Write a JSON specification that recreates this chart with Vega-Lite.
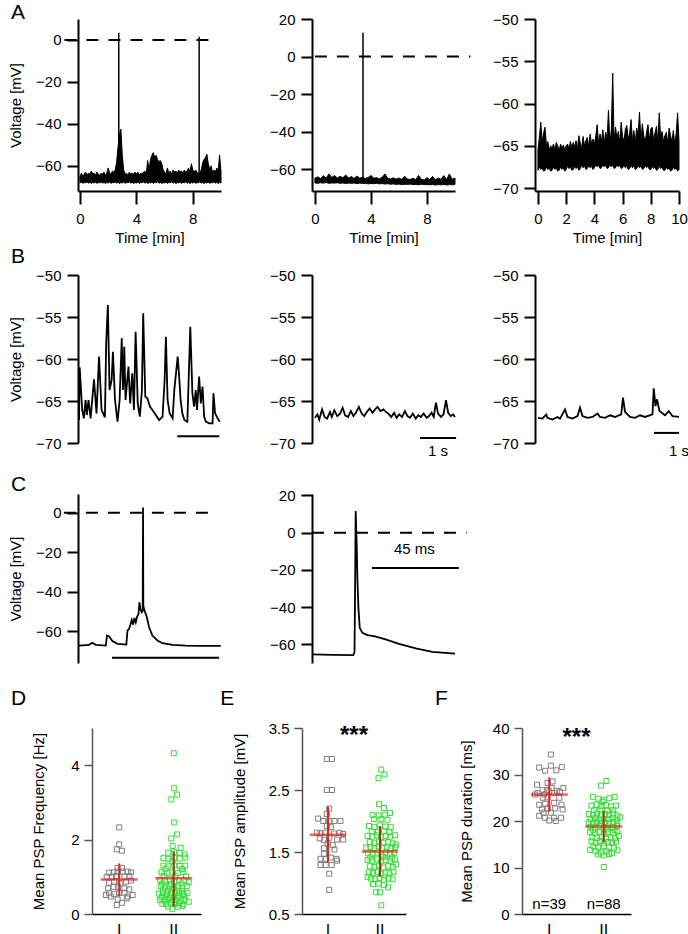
{
"$schema":"https://vega.github.io/schema/vega-lite/v6.json",
"background":"white",
"padding":{"left":8,"top":2,"right":0,"bottom":0},
"config":{
 "font":"Liberation Sans",
 "view":{"stroke":null},
 "axis":{"domainColor":"black","domainWidth":2,"tickColor":"black","tickWidth":2,"tickSize":11,"labelPadding":6,"labelFont":"Liberation Sans","labelFontSize":15,"labelColor":"black","titleFont":"Liberation Sans","titleFontSize":15,"titleFontWeight":"normal","titleColor":"black","grid":false,"labelFlush":false,"labelOverlap":false}
},
"datasets":{
 "a1":[
{"t":0.0,"hi":-65,"lo":-68.2},{"t":0.1,"hi":-63.5,"lo":-67.7},{"t":0.2,"hi":-65,"lo":-68.4},{"t":0.3,"hi":-64,"lo":-67.9},{"t":0.4,"hi":-63,"lo":-68.1},{"t":0.5,"hi":-64.5,"lo":-67.6},{"t":0.6,"hi":-63.5,"lo":-68.3},{"t":0.7,"hi":-64,"lo":-67.8},{"t":0.8,"hi":-62.5,"lo":-68.5},{"t":0.9,"hi":-64,"lo":-67.9},
{"t":1.0,"hi":-63.5,"lo":-68.2},{"t":1.1,"hi":-64.5,"lo":-67.7},{"t":1.2,"hi":-63,"lo":-68.4},{"t":1.3,"hi":-64,"lo":-67.9},{"t":1.4,"hi":-64.5,"lo":-68.1},{"t":1.5,"hi":-63.5,"lo":-67.6},{"t":1.6,"hi":-64,"lo":-68.3},{"t":1.7,"hi":-63,"lo":-67.8},{"t":1.8,"hi":-64.5,"lo":-68.5},{"t":1.9,"hi":-63.5,"lo":-67.9},
{"t":2.0,"hi":-61,"lo":-68.2},{"t":2.1,"hi":-63.5,"lo":-67.7},{"t":2.2,"hi":-64,"lo":-68.4},{"t":2.3,"hi":-62.5,"lo":-67.9},{"t":2.4,"hi":-63,"lo":-68.1},{"t":2.5,"hi":-62,"lo":-67.6},{"t":2.6,"hi":-58,"lo":-68.3},{"t":2.7,"hi":-51,"lo":-67.8},{"t":2.8,"hi":-45,"lo":-68.5},{"t":2.9,"hi":-42.5,"lo":-67.9},
{"t":3.0,"hi":-55,"lo":-68.2},{"t":3.1,"hi":-62,"lo":-67.7},{"t":3.2,"hi":-64,"lo":-68.4},{"t":3.3,"hi":-63.5,"lo":-67.9},{"t":3.4,"hi":-64.5,"lo":-68.1},{"t":3.5,"hi":-63,"lo":-67.6},{"t":3.6,"hi":-64,"lo":-68.3},{"t":3.7,"hi":-63.5,"lo":-67.8},{"t":3.8,"hi":-64,"lo":-68.5},{"t":3.9,"hi":-63,"lo":-67.9},
{"t":4.0,"hi":-64,"lo":-68.2},{"t":4.1,"hi":-63,"lo":-67.7},{"t":4.2,"hi":-64.5,"lo":-68.4},{"t":4.3,"hi":-63.5,"lo":-67.9},{"t":4.4,"hi":-64,"lo":-68.1},{"t":4.5,"hi":-63,"lo":-67.6},{"t":4.6,"hi":-62.5,"lo":-68.3},{"t":4.7,"hi":-64,"lo":-67.8},{"t":4.8,"hi":-57.5,"lo":-68.5},{"t":4.9,"hi":-62,"lo":-67.9},
{"t":5.0,"hi":-57,"lo":-68.2},{"t":5.1,"hi":-55,"lo":-67.7},{"t":5.2,"hi":-53.7,"lo":-68.4},{"t":5.3,"hi":-56,"lo":-67.9},{"t":5.4,"hi":-55,"lo":-68.1},{"t":5.5,"hi":-57,"lo":-67.6},{"t":5.6,"hi":-58,"lo":-68.3},{"t":5.7,"hi":-57.5,"lo":-67.8},{"t":5.8,"hi":-59,"lo":-68.5},{"t":5.9,"hi":-62,"lo":-67.9},
{"t":6.0,"hi":-63,"lo":-68.2},{"t":6.1,"hi":-64,"lo":-67.7},{"t":6.2,"hi":-61,"lo":-68.4},{"t":6.3,"hi":-63.5,"lo":-67.9},{"t":6.4,"hi":-62.5,"lo":-68.1},{"t":6.5,"hi":-64,"lo":-67.6},{"t":6.6,"hi":-62,"lo":-68.3},{"t":6.7,"hi":-63,"lo":-67.8},{"t":6.8,"hi":-62.5,"lo":-68.5},{"t":6.9,"hi":-63.5,"lo":-67.9},
{"t":7.0,"hi":-62,"lo":-68.2},{"t":7.1,"hi":-63,"lo":-67.7},{"t":7.2,"hi":-62.5,"lo":-68.4},{"t":7.3,"hi":-63.5,"lo":-67.9},{"t":7.4,"hi":-62,"lo":-68.1},{"t":7.5,"hi":-63,"lo":-67.6},{"t":7.6,"hi":-62.5,"lo":-68.3},{"t":7.7,"hi":-61,"lo":-67.8},{"t":7.8,"hi":-63,"lo":-68.5},{"t":7.9,"hi":-59,"lo":-67.9},
{"t":8.0,"hi":-62,"lo":-68.2},{"t":8.1,"hi":-63,"lo":-67.7},{"t":8.2,"hi":-62,"lo":-68.4},{"t":8.3,"hi":-63,"lo":-67.9},{"t":8.4,"hi":-64,"lo":-68.1},{"t":8.5,"hi":-63,"lo":-67.6},{"t":8.6,"hi":-62,"lo":-68.3},{"t":8.7,"hi":-58.5,"lo":-67.8},{"t":8.8,"hi":-57,"lo":-68.5},{"t":8.9,"hi":-56,"lo":-67.9},
{"t":9.0,"hi":-54.5,"lo":-68.2},{"t":9.1,"hi":-59,"lo":-67.7},{"t":9.2,"hi":-62,"lo":-68.4},{"t":9.3,"hi":-60,"lo":-67.9},{"t":9.4,"hi":-63,"lo":-68.1},{"t":9.5,"hi":-62,"lo":-67.6},{"t":9.6,"hi":-63,"lo":-68.3},{"t":9.7,"hi":-61,"lo":-67.8},{"t":9.8,"hi":-62.5,"lo":-68.5},{"t":9.9,"hi":-54.8,"lo":-67.9},{"t":10.0,"hi":-63,"lo":-68.2}
 ],
 "a2":[
{"t":0,"hi":-64.8,"lo":-67.4},{"t":0.2,"hi":-64.2,"lo":-67.6},{"t":0.4,"hi":-65.0,"lo":-67.3},{"t":0.6,"hi":-63.6,"lo":-67.5},{"t":0.8,"hi":-64.9,"lo":-67.2},{"t":1.0,"hi":-62.6,"lo":-67.6},{"t":1.2,"hi":-64.5,"lo":-67.4},{"t":1.4,"hi":-63.5,"lo":-67.5},{"t":1.6,"hi":-64.8,"lo":-67.3},{"t":1.8,"hi":-63.9,"lo":-67.6},
{"t":2.0,"hi":-64.6,"lo":-67.4},{"t":2.2,"hi":-63.2,"lo":-67.7},{"t":2.4,"hi":-64.8,"lo":-67.5},{"t":2.6,"hi":-64.0,"lo":-67.6},{"t":2.8,"hi":-65.0,"lo":-67.4},{"t":3.0,"hi":-63.7,"lo":-67.8},{"t":3.2,"hi":-64.9,"lo":-67.5},{"t":3.4,"hi":-64.3,"lo":-67.7},{"t":3.6,"hi":-65.1,"lo":-67.6},{"t":3.8,"hi":-64.5,"lo":-67.9},
{"t":4.0,"hi":-63.4,"lo":-67.7},{"t":4.2,"hi":-64.9,"lo":-67.8},{"t":4.4,"hi":-64.6,"lo":-67.6},{"t":4.6,"hi":-65.2,"lo":-67.9},{"t":4.8,"hi":-64.4,"lo":-67.7},{"t":5.0,"hi":-62.6,"lo":-68.0},{"t":5.2,"hi":-64.9,"lo":-67.8},{"t":5.4,"hi":-65.3,"lo":-68.1},{"t":5.6,"hi":-64.7,"lo":-67.9},{"t":5.8,"hi":-65.4,"lo":-68.2},
{"t":6.0,"hi":-64.8,"lo":-68.0},{"t":6.2,"hi":-65.5,"lo":-68.3},{"t":6.4,"hi":-63.8,"lo":-68.1},{"t":6.6,"hi":-65.3,"lo":-68.2},{"t":6.8,"hi":-65.6,"lo":-68.0},{"t":7.0,"hi":-64.9,"lo":-68.3},{"t":7.2,"hi":-65.7,"lo":-68.2},{"t":7.4,"hi":-63.4,"lo":-68.4},{"t":7.6,"hi":-65.5,"lo":-68.1},{"t":7.8,"hi":-65.8,"lo":-68.3},
{"t":8.0,"hi":-64.6,"lo":-68.2},{"t":8.2,"hi":-65.6,"lo":-68.4},{"t":8.4,"hi":-63.9,"lo":-68.2},{"t":8.6,"hi":-65.7,"lo":-68.5},{"t":8.8,"hi":-64.8,"lo":-68.3},{"t":9.0,"hi":-65.5,"lo":-68.4},{"t":9.2,"hi":-63.5,"lo":-68.2},{"t":9.4,"hi":-65.6,"lo":-68.5},{"t":9.6,"hi":-62.6,"lo":-68.3},{"t":9.8,"hi":-65.5,"lo":-68.4},{"t":10.0,"hi":-64.8,"lo":-68.2}
 ],
 "a3":[
{"t":0.0,"hi":-65.5,"lo":-67.9},{"t":0.1,"hi":-64,"lo":-67.5},{"t":0.2,"hi":-62.2,"lo":-67.8},{"t":0.3,"hi":-64.5,"lo":-67.6},{"t":0.4,"hi":-63.5,"lo":-68.0},{"t":0.5,"hi":-62.8,"lo":-67.9},{"t":0.6,"hi":-65,"lo":-67.5},{"t":0.7,"hi":-64.5,"lo":-67.8},{"t":0.8,"hi":-65.5,"lo":-67.6},{"t":0.9,"hi":-65,"lo":-68.0},
{"t":1.0,"hi":-65.3,"lo":-67.9},{"t":1.1,"hi":-64.8,"lo":-67.5},{"t":1.2,"hi":-65.5,"lo":-67.8},{"t":1.3,"hi":-64.6,"lo":-67.6},{"t":1.4,"hi":-65,"lo":-68.0},{"t":1.5,"hi":-65.6,"lo":-67.9},{"t":1.6,"hi":-64.8,"lo":-67.5},{"t":1.7,"hi":-65.3,"lo":-67.8},{"t":1.8,"hi":-64.9,"lo":-67.6},{"t":1.9,"hi":-65.5,"lo":-68.0},
{"t":2.0,"hi":-65,"lo":-67.8},{"t":2.1,"hi":-64.8,"lo":-67.4},{"t":2.2,"hi":-65.4,"lo":-67.7},{"t":2.3,"hi":-64.5,"lo":-67.5},{"t":2.4,"hi":-65.2,"lo":-67.9},{"t":2.5,"hi":-64.6,"lo":-67.8},{"t":2.6,"hi":-65.1,"lo":-67.4},{"t":2.7,"hi":-64.4,"lo":-67.7},{"t":2.8,"hi":-65.3,"lo":-67.5},{"t":2.9,"hi":-63.8,"lo":-67.9},
{"t":3.0,"hi":-64.7,"lo":-67.7},{"t":3.1,"hi":-65.2,"lo":-67.3},{"t":3.2,"hi":-63.9,"lo":-67.6},{"t":3.3,"hi":-65,"lo":-67.4},{"t":3.4,"hi":-64.4,"lo":-67.8},{"t":3.5,"hi":-64,"lo":-67.7},{"t":3.6,"hi":-65.1,"lo":-67.3},{"t":3.7,"hi":-63.6,"lo":-67.6},{"t":3.8,"hi":-64.8,"lo":-67.4},{"t":3.9,"hi":-64.2,"lo":-67.8},
{"t":4.0,"hi":-64.8,"lo":-67.6},{"t":4.1,"hi":-63.8,"lo":-67.2},{"t":4.2,"hi":-62.5,"lo":-67.5},{"t":4.3,"hi":-64.9,"lo":-67.3},{"t":4.4,"hi":-63.6,"lo":-67.7},{"t":4.5,"hi":-64.5,"lo":-67.6},{"t":4.6,"hi":-63.1,"lo":-67.2},{"t":4.7,"hi":-64.7,"lo":-67.5},{"t":4.8,"hi":-63.4,"lo":-67.3},{"t":4.9,"hi":-64.2,"lo":-67.7},
{"t":5.0,"hi":-60.8,"lo":-67.6},{"t":5.1,"hi":-64.6,"lo":-67.2},{"t":5.2,"hi":-63.2,"lo":-67.5},{"t":5.3,"hi":-56.4,"lo":-67.3},{"t":5.4,"hi":-64.5,"lo":-67.7},{"t":5.5,"hi":-62.8,"lo":-67.6},{"t":5.6,"hi":-64.1,"lo":-67.2},{"t":5.7,"hi":-63.3,"lo":-67.5},{"t":5.8,"hi":-64.6,"lo":-67.3},{"t":5.9,"hi":-62.2,"lo":-67.7},
{"t":6.0,"hi":-63.9,"lo":-67.6},{"t":6.1,"hi":-64.5,"lo":-67.3},{"t":6.2,"hi":-63,"lo":-67.6},{"t":6.3,"hi":-62.6,"lo":-67.4},{"t":6.4,"hi":-64.3,"lo":-67.8},{"t":6.5,"hi":-63.5,"lo":-67.7},{"t":6.6,"hi":-61.9,"lo":-67.3},{"t":6.7,"hi":-64.4,"lo":-67.6},{"t":6.8,"hi":-63.2,"lo":-67.4},{"t":6.9,"hi":-64.6,"lo":-67.8},
{"t":7.0,"hi":-62.9,"lo":-67.7},{"t":7.1,"hi":-63.7,"lo":-67.3},{"t":7.2,"hi":-61,"lo":-67.6},{"t":7.3,"hi":-64.5,"lo":-67.4},{"t":7.4,"hi":-62.4,"lo":-67.8},{"t":7.5,"hi":-63.8,"lo":-67.7},{"t":7.6,"hi":-64.6,"lo":-67.3},{"t":7.7,"hi":-63.4,"lo":-67.6},{"t":7.8,"hi":-62.5,"lo":-67.4},{"t":7.9,"hi":-64.3,"lo":-67.8},
{"t":8.0,"hi":-63,"lo":-67.8},{"t":8.1,"hi":-62.8,"lo":-67.4},{"t":8.2,"hi":-64.4,"lo":-67.7},{"t":8.3,"hi":-63.5,"lo":-67.5},{"t":8.4,"hi":-62.7,"lo":-67.9},{"t":8.5,"hi":-64.6,"lo":-67.8},{"t":8.6,"hi":-61.1,"lo":-67.4},{"t":8.7,"hi":-64.2,"lo":-67.7},{"t":8.8,"hi":-63.3,"lo":-67.5},{"t":8.9,"hi":-64.5,"lo":-67.9},
{"t":9.0,"hi":-63.8,"lo":-67.9},{"t":9.1,"hi":-63.4,"lo":-67.5},{"t":9.2,"hi":-64.7,"lo":-67.8},{"t":9.3,"hi":-62.9,"lo":-67.6},{"t":9.4,"hi":-63.8,"lo":-68.0},{"t":9.5,"hi":-64.5,"lo":-67.9},{"t":9.6,"hi":-63.2,"lo":-67.5},{"t":9.7,"hi":-64.8,"lo":-67.8},{"t":9.8,"hi":-63.6,"lo":-67.6},{"t":9.9,"hi":-61.1,"lo":-68.0},{"t":10.0,"hi":-64.5,"lo":-67.8}
 ],
 "b1":[
{"t":0.024,"v":-67.26},{"t":0.04,"v":-60.99},{"t":0.10,"v":-66.07},{"t":0.14,"v":-67.06},{"t":0.18,"v":-64.88},{"t":0.21,"v":-66.67},{"t":0.25,"v":-64.88},{"t":0.30,"v":-67.06},{"t":0.38,"v":-62.42},{"t":0.44,"v":-66.47},{"t":0.50,"v":-59.72},{"t":0.56,"v":-66.07},{"t":0.64,"v":-66.94},{"t":0.67,"v":-58.13},{"t":0.71,"v":-53.57},{"t":0.75,"v":-63.69},{"t":0.80,"v":-62.50},{"t":0.83,"v":-59.13},{"t":0.88,"v":-64.88},{"t":0.94,"v":-67.46},{"t":0.99,"v":-64.88},{"t":1.04,"v":-57.54},{"t":1.07,"v":-63.69},{"t":1.10,"v":-58.53},{"t":1.13,"v":-64.88},{"t":1.20,"v":-60.91},{"t":1.24,"v":-65.28},{"t":1.29,"v":-61.71},{"t":1.33,"v":-66.07},{"t":1.37,"v":-56.75},{"t":1.42,"v":-65.28},{"t":1.47,"v":-66.87},{"t":1.52,"v":-63.69},{"t":1.55,"v":-54.56},{"t":1.60,"v":-64.48},{"t":1.65,"v":-64.68},{"t":1.71,"v":-65.67},{"t":1.77,"v":-66.07},{"t":1.85,"v":-66.67},{"t":1.93,"v":-67.26},{"t":2.01,"v":-66.87},{"t":2.06,"v":-62.50},{"t":2.09,"v":-57.34},{"t":2.13,"v":-64.88},{"t":2.18,"v":-66.47},{"t":2.25,"v":-67.06},{"t":2.29,"v":-63.69},{"t":2.37,"v":-59.72},{"t":2.40,"v":-61.71},{"t":2.44,"v":-64.88},{"t":2.48,"v":-66.47},{"t":2.53,"v":-67.26},{"t":2.60,"v":-67.46},{"t":2.67,"v":-56.15},{"t":2.72,"v":-64.09},{"t":2.76,"v":-65.67},{"t":2.80,"v":-63.69},{"t":2.83,"v":-66.07},{"t":2.88,"v":-62.10},{"t":2.92,"v":-65.28},{"t":2.96,"v":-63.29},{"t":3.00,"v":-66.87},{"t":3.04,"v":-67.46},{"t":3.12,"v":-67.66},{"t":3.20,"v":-67.66},{"t":3.22,"v":-64.09},{"t":3.26,"v":-66.47},{"t":3.32,"v":-67.06},{"t":3.37,"v":-67.46}
 ],
 "b2":[
{"t":0.08,"v":-67.0},{"t":0.15,"v":-66.6},{"t":0.2,"v":-67.2},{"t":0.28,"v":-66.0},{"t":0.35,"v":-66.9},{"t":0.42,"v":-67.1},{"t":0.5,"v":-66.3},{"t":0.55,"v":-66.9},{"t":0.62,"v":-66.1},{"t":0.7,"v":-66.8},{"t":0.78,"v":-66.5},{"t":0.85,"v":-65.8},{"t":0.92,"v":-66.7},{"t":1.0,"v":-66.9},{"t":1.08,"v":-66.2},{"t":1.15,"v":-66.8},{"t":1.22,"v":-66.4},{"t":1.3,"v":-65.7},{"t":1.38,"v":-66.5},{"t":1.45,"v":-66.8},{"t":1.52,"v":-66.3},{"t":1.6,"v":-65.9},{"t":1.68,"v":-66.4},{"t":1.75,"v":-66.0},{"t":1.82,"v":-65.7},{"t":1.9,"v":-66.2},{"t":1.98,"v":-66.0},{"t":2.05,"v":-66.3},{"t":2.12,"v":-66.5},{"t":2.2,"v":-66.9},{"t":2.28,"v":-66.4},{"t":2.35,"v":-67.0},{"t":2.42,"v":-66.6},{"t":2.5,"v":-66.9},{"t":2.58,"v":-66.2},{"t":2.65,"v":-66.8},{"t":2.72,"v":-67.0},{"t":2.8,"v":-66.5},{"t":2.88,"v":-67.1},{"t":2.95,"v":-66.7},{"t":3.02,"v":-66.9},{"t":3.1,"v":-66.5},{"t":3.18,"v":-67.0},{"t":3.25,"v":-66.8},{"t":3.32,"v":-66.4},{"t":3.38,"v":-66.9},{"t":3.44,"v":-65.2},{"t":3.5,"v":-66.5},{"t":3.58,"v":-66.9},{"t":3.65,"v":-66.6},{"t":3.72,"v":-64.9},{"t":3.78,"v":-66.4},{"t":3.85,"v":-66.8},{"t":3.92,"v":-66.6},{"t":3.97,"v":-66.9}
 ],
 "b3":[
{"t":0.12,"v":-67.0},{"t":0.3,"v":-67.1},{"t":0.45,"v":-66.6},{"t":0.5,"v":-67.0},{"t":0.7,"v":-67.2},{"t":0.9,"v":-66.9},{"t":1.0,"v":-67.1},{"t":1.2,"v":-66.0},{"t":1.3,"v":-66.9},{"t":1.5,"v":-67.1},{"t":1.7,"v":-66.8},{"t":1.8,"v":-65.8},{"t":1.9,"v":-66.8},{"t":2.1,"v":-67.0},{"t":2.3,"v":-66.9},{"t":2.5,"v":-66.5},{"t":2.6,"v":-66.9},{"t":2.8,"v":-67.0},{"t":3.0,"v":-66.7},{"t":3.2,"v":-66.9},{"t":3.45,"v":-66.6},{"t":3.52,"v":-64.6},{"t":3.6,"v":-66.3},{"t":3.8,"v":-66.9},{"t":4.0,"v":-67.0},{"t":4.2,"v":-66.7},{"t":4.4,"v":-66.9},{"t":4.7,"v":-66.6},{"t":4.75,"v":-63.5},{"t":4.82,"v":-65.6},{"t":4.88,"v":-64.8},{"t":4.98,"v":-66.2},{"t":5.2,"v":-66.7},{"t":5.35,"v":-66.2},{"t":5.5,"v":-66.8},{"t":5.76,"v":-66.9}
 ],
 "c1":[
{"t":0.5,"v":-67.2},{"t":5.7,"v":-66.8},{"t":7.4,"v":-65.8},{"t":9.2,"v":-66.8},{"t":14.4,"v":-67.2},{"t":15.0,"v":-62.1},{"t":16.1,"v":-62.6},{"t":17.8,"v":-64.9},{"t":20.4,"v":-66.3},{"t":25.0,"v":-66.7},{"t":25.6,"v":-59.6},{"t":26.4,"v":-58.8},{"t":27.1,"v":-56.6},{"t":27.8,"v":-54.2},{"t":28.5,"v":-56.6},{"t":29.2,"v":-53.2},{"t":29.9,"v":-55.4},{"t":30.6,"v":-52.5},{"t":31.3,"v":-51.2},{"t":31.8,"v":-45.3},{"t":32.3,"v":-48.7},{"t":33.0,"v":-50.3},{"t":33.5,"v":-49.5},{"t":33.65,"v":2.7},{"t":33.8,"v":-47},{"t":34.4,"v":-49.5},{"t":35.4,"v":-52.0},{"t":36.8,"v":-57.9},{"t":38.5,"v":-62.1},{"t":41.1,"v":-64.6},{"t":43.7,"v":-66.0},{"t":48.9,"v":-66.8},{"t":55.8,"v":-67.2},{"t":62.7,"v":-67.3},{"t":73.9,"v":-67.3}
 ],
 "c2":[
{"t":0.2,"v":-65.4},{"t":10.5,"v":-65.6},{"t":21.4,"v":-65.8},{"t":22.0,"v":-64},{"t":22.3,"v":-30},{"t":22.6,"v":11.7},{"t":23.1,"v":-5},{"t":23.5,"v":-25},{"t":24.0,"v":-40},{"t":24.7,"v":-51.1},{"t":26.1,"v":-53.8},{"t":28.6,"v":-55.0},{"t":32.1,"v":-55.5},{"t":38.1,"v":-57.3},{"t":45.0,"v":-59.7},{"t":53.7,"v":-62.2},{"t":62.3,"v":-64.0},{"t":74.0,"v":-65.0}
 ],
 "d":[
{"g":"I","j":0,"v":2.33},{"g":"I","j":0,"v":1.87},{"g":"I","j":-0.09,"v":1.74},{"g":"I","j":0.1,"v":1.7},{"g":"I","j":-0.06,"v":1.24},{"g":"I","j":0.1,"v":1.24},{"g":"I","j":-0.37,"v":1.11},{"g":"I","j":-0.21,"v":1.12},{"g":"I","j":-0.06,"v":1.14},{"g":"I","j":0.12,"v":1.14},{"g":"I","j":0.31,"v":1.14},{"g":"I","j":0.43,"v":1.12},{"g":"I","j":-0.46,"v":1.0},{"g":"I","j":-0.27,"v":1.0},{"g":"I","j":-0.12,"v":1.02},{"g":"I","j":0.19,"v":1.0},{"g":"I","j":0.37,"v":1.02},{"g":"I","j":-0.37,"v":0.84},{"g":"I","j":-0.19,"v":0.87},{"g":"I","j":0.04,"v":0.82},{"g":"I","j":0.25,"v":0.87},{"g":"I","j":0.43,"v":0.9},{"g":"I","j":-0.41,"v":0.69},{"g":"I","j":-0.21,"v":0.73},{"g":"I","j":-0.04,"v":0.73},{"g":"I","j":0.19,"v":0.69},{"g":"I","j":0.37,"v":0.66},{"g":"I","j":-0.37,"v":0.56},{"g":"I","j":-0.19,"v":0.54},{"g":"I","j":0,"v":0.57},{"g":"I","j":0.19,"v":0.57},{"g":"I","j":-0.49,"v":0.51},{"g":"I","j":-0.31,"v":0.47},{"g":"I","j":0.31,"v":0.47},{"g":"I","j":0.49,"v":0.51},{"g":"I","j":-0.06,"v":0.39},{"g":"I","j":0.28,"v":0.42},{"g":"I","j":0.1,"v":0.3},{"g":"I","j":-0.09,"v":0.24},
{"g":"II","j":0,"v":4.32},{"g":"II","j":0.02,"v":3.38},{"g":"II","j":0.12,"v":3.21},{"g":"II","j":-0.09,"v":3.08},{"g":"II","j":0.02,"v":2.46},{"g":"II","j":0.12,"v":2.14},{"g":"II","j":-0.09,"v":2.03},{"g":"II","j":-0.04,"v":1.83},{"g":"II","j":0.25,"v":1.78},
{"g":"II","j":-0.2,"v":1.65},{"g":"II","j":0.02,"v":1.66},{"g":"II","j":0.22,"v":1.64},{"g":"II","j":0.4,"v":1.6},
{"g":"II","j":-0.38,"v":1.5},{"g":"II","j":-0.2,"v":1.48},{"g":"II","j":0.02,"v":1.5},{"g":"II","j":0.22,"v":1.49},{"g":"II","j":0.42,"v":1.52},{"g":"II","j":-0.05,"v":1.42},
{"g":"II","j":-0.38,"v":1.3},{"g":"II","j":-0.2,"v":1.28},{"g":"II","j":0.02,"v":1.31},{"g":"II","j":0.22,"v":1.29},{"g":"II","j":0.42,"v":1.3},{"g":"II","j":-0.3,"v":1.22},{"g":"II","j":0.3,"v":1.21},
{"g":"II","j":-0.45,"v":1.12},{"g":"II","j":-0.25,"v":1.1},{"g":"II","j":-0.05,"v":1.12},{"g":"II","j":0.15,"v":1.1},{"g":"II","j":0.35,"v":1.12},{"g":"II","j":-0.35,"v":1.02},{"g":"II","j":0.05,"v":1.03},{"g":"II","j":0.45,"v":1.01},
{"g":"II","j":-0.5,"v":0.92},{"g":"II","j":-0.33,"v":0.9},{"g":"II","j":-0.15,"v":0.93},{"g":"II","j":0.02,"v":0.88},{"g":"II","j":0.2,"v":0.91},{"g":"II","j":0.38,"v":0.9},{"g":"II","j":0.55,"v":0.85},{"g":"II","j":-0.42,"v":0.82},{"g":"II","j":-0.1,"v":0.81},{"g":"II","j":0.28,"v":0.82},
{"g":"II","j":-0.48,"v":0.75},{"g":"II","j":-0.32,"v":0.72},{"g":"II","j":-0.16,"v":0.76},{"g":"II","j":0,"v":0.72},{"g":"II","j":0.16,"v":0.74},{"g":"II","j":0.32,"v":0.71},{"g":"II","j":0.48,"v":0.75},{"g":"II","j":-0.4,"v":0.64},{"g":"II","j":-0.22,"v":0.62},{"g":"II","j":-0.05,"v":0.66},{"g":"II","j":0.12,"v":0.63},{"g":"II","j":0.3,"v":0.62},
{"g":"II","j":-0.55,"v":0.55},{"g":"II","j":-0.4,"v":0.56},{"g":"II","j":-0.25,"v":0.54},{"g":"II","j":-0.1,"v":0.57},{"g":"II","j":0.05,"v":0.55},{"g":"II","j":0.2,"v":0.56},{"g":"II","j":0.35,"v":0.54},{"g":"II","j":0.5,"v":0.56},{"g":"II","j":-0.45,"v":0.45},{"g":"II","j":-0.3,"v":0.47},{"g":"II","j":-0.15,"v":0.44},{"g":"II","j":0,"v":0.46},{"g":"II","j":0.15,"v":0.45},{"g":"II","j":0.4,"v":0.47},
{"g":"II","j":-0.5,"v":0.38},{"g":"II","j":-0.35,"v":0.36},{"g":"II","j":-0.2,"v":0.39},{"g":"II","j":-0.05,"v":0.37},{"g":"II","j":0.1,"v":0.38},{"g":"II","j":0.25,"v":0.36},{"g":"II","j":0.4,"v":0.38},{"g":"II","j":0.55,"v":0.33},{"g":"II","j":-0.42,"v":0.28},{"g":"II","j":-0.28,"v":0.27},{"g":"II","j":-0.12,"v":0.3},{"g":"II","j":0.05,"v":0.27},{"g":"II","j":0.2,"v":0.29},{"g":"II","j":0.35,"v":0.26},
{"g":"II","j":-0.2,"v":0.2},{"g":"II","j":-0.05,"v":0.14},{"g":"II","j":0.15,"v":0.2},{"g":"II","j":0.32,"v":0.22}
 ],
 "e":[
{"g":"I","j":-0.09,"v":3.0},{"g":"I","j":0.1,"v":3.0},{"g":"I","j":-0.09,"v":2.5},{"g":"I","j":0.1,"v":2.5},{"g":"I","j":0,"v":2.2},{"g":"I","j":-0.09,"v":2.11},{"g":"I","j":-0.41,"v":2.04},{"g":"I","j":-0.22,"v":2.0},{"g":"I","j":0,"v":2.0},{"g":"I","j":0.19,"v":2.0},{"g":"I","j":0.41,"v":2.0},{"g":"I","j":-0.09,"v":1.92},{"g":"I","j":0.06,"v":1.9},{"g":"I","j":-0.45,"v":1.81},{"g":"I","j":-0.32,"v":1.8},{"g":"I","j":-0.15,"v":1.81},{"g":"I","j":0.17,"v":1.8},{"g":"I","j":0.38,"v":1.81},{"g":"I","j":0.51,"v":1.79},{"g":"I","j":-0.35,"v":1.72},{"g":"I","j":-0.19,"v":1.69},{"g":"I","j":0,"v":1.73},{"g":"I","j":0.29,"v":1.7},{"g":"I","j":0.51,"v":1.7},{"g":"I","j":-0.06,"v":1.64},{"g":"I","j":0.13,"v":1.61},{"g":"I","j":-0.19,"v":1.56},{"g":"I","j":0.19,"v":1.54},{"g":"I","j":-0.19,"v":1.47},{"g":"I","j":-0.32,"v":1.39},{"g":"I","j":-0.13,"v":1.39},{"g":"I","j":0.06,"v":1.41},{"g":"I","j":0.26,"v":1.39},{"g":"I","j":-0.32,"v":1.29},{"g":"I","j":-0.13,"v":1.29},{"g":"I","j":0.09,"v":1.29},{"g":"I","j":0.29,"v":1.36},{"g":"I","j":0,"v":1.15},{"g":"I","j":0,"v":0.89},
{"g":"II","j":0,"v":2.83},{"g":"II","j":0.12,"v":2.75},{"g":"II","j":-0.1,"v":2.69},{"g":"II","j":-0.08,"v":2.27},{"g":"II","j":0.1,"v":2.21},
{"g":"II","j":-0.32,"v":2.1},{"g":"II","j":-0.09,"v":2.09},{"g":"II","j":0.13,"v":2.1},{"g":"II","j":0.32,"v":2.13},{"g":"II","j":-0.26,"v":2.03},{"g":"II","j":0,"v":2.03},{"g":"II","j":0.23,"v":2.02},
{"g":"II","j":-0.45,"v":1.92},{"g":"II","j":-0.25,"v":1.9},{"g":"II","j":-0.05,"v":1.93},{"g":"II","j":0.15,"v":1.91},{"g":"II","j":0.35,"v":1.9},{"g":"II","j":-0.35,"v":1.83},{"g":"II","j":-0.12,"v":1.82},{"g":"II","j":0.1,"v":1.84},{"g":"II","j":0.3,"v":1.82},
{"g":"II","j":-0.5,"v":1.76},{"g":"II","j":-0.33,"v":1.75},{"g":"II","j":-0.16,"v":1.77},{"g":"II","j":0,"v":1.74},{"g":"II","j":0.16,"v":1.76},{"g":"II","j":0.33,"v":1.75},{"g":"II","j":0.5,"v":1.77},{"g":"II","j":-0.42,"v":1.66},{"g":"II","j":-0.25,"v":1.64},{"g":"II","j":-0.08,"v":1.67},{"g":"II","j":0.08,"v":1.65},{"g":"II","j":0.25,"v":1.66},{"g":"II","j":0.42,"v":1.64},{"g":"II","j":0.55,"v":1.62},
{"g":"II","j":-0.55,"v":1.57},{"g":"II","j":-0.4,"v":1.58},{"g":"II","j":-0.25,"v":1.56},{"g":"II","j":-0.1,"v":1.59},{"g":"II","j":0.05,"v":1.57},{"g":"II","j":0.2,"v":1.58},{"g":"II","j":0.35,"v":1.56},{"g":"II","j":0.5,"v":1.58},{"g":"II","j":-0.48,"v":1.48},{"g":"II","j":-0.32,"v":1.47},{"g":"II","j":-0.16,"v":1.49},{"g":"II","j":0,"v":1.46},{"g":"II","j":0.16,"v":1.48},{"g":"II","j":0.32,"v":1.47},{"g":"II","j":0.48,"v":1.49},{"g":"II","j":-0.4,"v":1.41},{"g":"II","j":0.08,"v":1.42},{"g":"II","j":0.4,"v":1.41},
{"g":"II","j":-0.5,"v":1.37},{"g":"II","j":-0.33,"v":1.36},{"g":"II","j":-0.16,"v":1.38},{"g":"II","j":0,"v":1.35},{"g":"II","j":0.16,"v":1.37},{"g":"II","j":0.33,"v":1.36},{"g":"II","j":0.5,"v":1.38},{"g":"II","j":-0.42,"v":1.27},{"g":"II","j":-0.25,"v":1.26},{"g":"II","j":-0.08,"v":1.28},{"g":"II","j":0.08,"v":1.25},{"g":"II","j":0.25,"v":1.27},{"g":"II","j":0.42,"v":1.26},{"g":"II","j":0.55,"v":1.3},
{"g":"II","j":-0.45,"v":1.17},{"g":"II","j":-0.3,"v":1.16},{"g":"II","j":-0.15,"v":1.18},{"g":"II","j":0,"v":1.15},{"g":"II","j":0.15,"v":1.17},{"g":"II","j":0.3,"v":1.16},{"g":"II","j":0.45,"v":1.18},{"g":"II","j":-0.38,"v":1.07},{"g":"II","j":-0.22,"v":1.06},{"g":"II","j":-0.06,"v":1.08},{"g":"II","j":0.1,"v":1.05},{"g":"II","j":0.26,"v":1.07},{"g":"II","j":0.42,"v":1.06},{"g":"II","j":-0.5,"v":1.1},
{"g":"II","j":-0.3,"v":0.98},{"g":"II","j":-0.1,"v":0.99},{"g":"II","j":0.1,"v":0.97},{"g":"II","j":0.25,"v":0.93},{"g":"II","j":-0.2,"v":0.85},{"g":"II","j":-0.05,"v":0.85},{"g":"II","j":0,"v":0.64}
 ],
 "f":[
{"g":"I","j":0.06,"v":34.3},{"g":"I","j":-0.37,"v":31.5},{"g":"I","j":-0.15,"v":30.8},{"g":"I","j":0.06,"v":31.9},{"g":"I","j":0.26,"v":30.9},{"g":"I","j":0.46,"v":31.6},{"g":"I","j":-0.45,"v":27.8},{"g":"I","j":-0.06,"v":28.2},{"g":"I","j":-0.24,"v":26.7},{"g":"I","j":-0.09,"v":26.7},{"g":"I","j":0.09,"v":27.1},{"g":"I","j":0.28,"v":26.5},{"g":"I","j":0.52,"v":27.1},{"g":"I","j":-0.43,"v":26.0},{"g":"I","j":-0.18,"v":25.7},{"g":"I","j":0,"v":26.4},{"g":"I","j":0.18,"v":26.0},{"g":"I","j":0.39,"v":26.2},{"g":"I","j":-0.24,"v":25.0},{"g":"I","j":-0.06,"v":25.1},{"g":"I","j":0.37,"v":25.0},{"g":"I","j":-0.37,"v":23.5},{"g":"I","j":-0.15,"v":23.7},{"g":"I","j":0.18,"v":23.9},{"g":"I","j":0.45,"v":23.5},{"g":"I","j":-0.27,"v":22.5},{"g":"I","j":-0.06,"v":22.7},{"g":"I","j":0.22,"v":22.7},{"g":"I","j":-0.37,"v":21.1},{"g":"I","j":-0.16,"v":20.7},{"g":"I","j":0,"v":20.1},{"g":"I","j":0.18,"v":20.7},{"g":"I","j":0.43,"v":20.7},{"g":"I","j":0.06,"v":21.8},{"g":"I","j":0.49,"v":22.5},{"g":"I","j":-0.52,"v":25.7},{"g":"I","j":0.24,"v":20.0},{"g":"I","j":-0.21,"v":21.8},{"g":"I","j":0.12,"v":28.5},
{"g":"II","j":0.1,"v":28.6},{"g":"II","j":-0.1,"v":27.6},
{"g":"II","j":-0.4,"v":25.2},{"g":"II","j":-0.2,"v":24.8},{"g":"II","j":0,"v":24.5},{"g":"II","j":0.2,"v":24.9},{"g":"II","j":0.4,"v":25.2},{"g":"II","j":-0.05,"v":24.1},
{"g":"II","j":-0.45,"v":23.3},{"g":"II","j":-0.27,"v":23.5},{"g":"II","j":-0.09,"v":23.2},{"g":"II","j":0.09,"v":23.4},{"g":"II","j":0.27,"v":23.1},{"g":"II","j":0.45,"v":23.3},{"g":"II","j":-0.35,"v":22.3},{"g":"II","j":-0.12,"v":22.5},{"g":"II","j":0.12,"v":22.2},{"g":"II","j":0.35,"v":22.4},
{"g":"II","j":-0.55,"v":21.5},{"g":"II","j":-0.4,"v":21.3},{"g":"II","j":-0.25,"v":21.6},{"g":"II","j":-0.1,"v":21.2},{"g":"II","j":0.05,"v":21.5},{"g":"II","j":0.2,"v":21.3},{"g":"II","j":0.35,"v":21.6},{"g":"II","j":0.5,"v":21.2},{"g":"II","j":-0.48,"v":20.4},{"g":"II","j":-0.32,"v":20.6},{"g":"II","j":-0.16,"v":20.3},{"g":"II","j":0,"v":20.5},{"g":"II","j":0.16,"v":20.4},{"g":"II","j":0.32,"v":20.6},{"g":"II","j":0.48,"v":20.3},{"g":"II","j":0.6,"v":20.8},
{"g":"II","j":-0.55,"v":19.7},{"g":"II","j":-0.4,"v":19.5},{"g":"II","j":-0.25,"v":19.8},{"g":"II","j":-0.1,"v":19.6},{"g":"II","j":0.05,"v":19.7},{"g":"II","j":0.2,"v":19.5},{"g":"II","j":0.35,"v":19.8},{"g":"II","j":0.5,"v":19.6},{"g":"II","j":-0.48,"v":18.8},{"g":"II","j":-0.32,"v":18.6},{"g":"II","j":-0.16,"v":18.9},{"g":"II","j":0,"v":18.5},{"g":"II","j":0.16,"v":18.8},{"g":"II","j":0.32,"v":18.6},{"g":"II","j":0.48,"v":18.9},{"g":"II","j":-0.4,"v":18.1},{"g":"II","j":0.1,"v":18.2},{"g":"II","j":0.4,"v":18.0},
{"g":"II","j":-0.5,"v":17.6},{"g":"II","j":-0.33,"v":17.4},{"g":"II","j":-0.16,"v":17.7},{"g":"II","j":0,"v":17.3},{"g":"II","j":0.16,"v":17.6},{"g":"II","j":0.33,"v":17.4},{"g":"II","j":0.5,"v":17.7},{"g":"II","j":-0.42,"v":16.5},{"g":"II","j":-0.25,"v":16.3},{"g":"II","j":-0.08,"v":16.6},{"g":"II","j":0.08,"v":16.2},{"g":"II","j":0.25,"v":16.5},{"g":"II","j":0.42,"v":16.3},{"g":"II","j":0.55,"v":16.8},
{"g":"II","j":-0.45,"v":15.6},{"g":"II","j":-0.3,"v":15.3},{"g":"II","j":-0.15,"v":15.7},{"g":"II","j":0,"v":15.2},{"g":"II","j":0.15,"v":15.5},{"g":"II","j":0.3,"v":15.3},{"g":"II","j":0.45,"v":15.6},{"g":"II","j":-0.38,"v":14.5},{"g":"II","j":-0.2,"v":14.3},{"g":"II","j":0,"v":14.6},{"g":"II","j":0.2,"v":14.4},{"g":"II","j":0.38,"v":14.2},
{"g":"II","j":-0.5,"v":13.8},{"g":"II","j":-0.3,"v":13.5},{"g":"II","j":-0.1,"v":13.2},{"g":"II","j":0.1,"v":13.4},{"g":"II","j":0.3,"v":13.1},{"g":"II","j":0.5,"v":13.7},{"g":"II","j":-0.2,"v":12.8},{"g":"II","j":0,"v":12.6},{"g":"II","j":0.2,"v":12.9},
{"g":"II","j":0,"v":10.1}
 ],
 "dm":[{"g":"I","m":0.93,"lo":0.47,"hi":1.36},{"g":"II","m":0.96,"lo":0.2,"hi":1.69}],
 "em":[{"g":"I","m":1.78,"lo":1.33,"hi":2.23},{"g":"II","m":1.51,"lo":1.1,"hi":1.92}],
 "fm":[{"g":"I","m":25.7,"lo":22.0,"hi":29.4},{"g":"II","m":18.8,"lo":15.4,"hi":22.1}],
 "sp":[{"a":0}]
},
"spacing":0,
"vconcat":[
 {"bounds":"flush","spacing":0,"hconcat":[
  {"width":143,"height":172,
   "layer":[
    {"data":{"name":"a1"},"mark":{"type":"area","color":"black","stroke":"black","strokeWidth":1},
     "encoding":{"x":{"field":"t","type":"quantitative","scale":{"domain":[-0.14,10],"nice":false,"zero":false},"axis":{"values":[0,2,4,6,8,10],"title":"Time [min]","tickSize":13,"labelPadding":7,"titlePadding":4}},
      "y":{"field":"hi","type":"quantitative","scale":{"domain":[-72,10],"nice":false,"zero":false},"axis":{"values":[-60,-40,-20,0],"title":"Voltage [mV]","titlePadding":12}},
      "y2":{"field":"lo"}}},
    {"data":{"values":[{"t":2.75,"v0":-66,"v1":3.5},{"t":8.45,"v0":-66,"v1":1.5}]},"mark":{"type":"rule","strokeWidth":1.5,"color":"black"},
     "encoding":{"x":{"field":"t","type":"quantitative"},"y":{"field":"v0","type":"quantitative"},"y2":{"field":"v1"}}},
    {"data":{"values":[{"t0":-1.1,"t1":9.2,"v":0}]},"mark":{"type":"rule","strokeWidth":2,"strokeDash":[12,10],"color":"black"},
     "encoding":{"x":{"field":"t0","type":"quantitative"},"x2":{"field":"t1"},"y":{"field":"v","type":"quantitative"}}},
    {"data":{"values":[{"s":"A"}]},"mark":{"type":"text","fontSize":21,"align":"left","baseline":"alphabetic","color":"black"},
     "encoding":{"x":{"datum":-4.89,"type":"quantitative"},"y":{"datum":10,"type":"quantitative"},"text":{"field":"s"}}}
   ]},
  {"width":91,"height":1,"data":{"name":"sp"},"mark":{"type":"point","opacity":0}},
  {"width":143,"height":172,
   "layer":[
    {"data":{"name":"a2"},"mark":{"type":"area","color":"black","stroke":"black","strokeWidth":1},
     "encoding":{"x":{"field":"t","type":"quantitative","scale":{"domain":[-0.21,10],"nice":false,"zero":false},"axis":{"values":[0,2,4,6,8,10],"title":"Time [min]","tickSize":13,"labelPadding":7,"titlePadding":4}},
      "y":{"field":"hi","type":"quantitative","scale":{"domain":[-71.7,20],"nice":false,"zero":false},"axis":{"values":[-60,-40,-20,0,20],"title":null}},
      "y2":{"field":"lo"}}},
    {"data":{"values":[{"t":3.43,"v0":-66,"v1":12.7}]},"mark":{"type":"rule","strokeWidth":1.5,"color":"black"},
     "encoding":{"x":{"field":"t","type":"quantitative"},"y":{"field":"v0","type":"quantitative"},"y2":{"field":"v1"}}},
    {"data":{"values":[{"t0":0,"t1":11.1,"v":0}]},"mark":{"type":"rule","strokeWidth":2,"strokeDash":[12,10],"color":"black"},
     "encoding":{"x":{"field":"t0","type":"quantitative"},"x2":{"field":"t1"},"y":{"field":"v","type":"quantitative"}}}
   ]},
  {"width":80,"height":1,"data":{"name":"sp"},"mark":{"type":"point","opacity":0}},
  {"width":144,"height":172,
   "layer":[
    {"data":{"name":"a3"},"mark":{"type":"area","color":"black","stroke":"black","strokeWidth":1},
     "encoding":{"x":{"field":"t","type":"quantitative","scale":{"domain":[-0.21,10],"nice":false,"zero":false},"axis":{"values":[0,2,4,6,8,10],"title":"Time [min]","tickSize":13,"labelPadding":7,"titlePadding":4}},
      "y":{"field":"hi","type":"quantitative","scale":{"domain":[-70.35,-50],"nice":false,"zero":false},"axis":{"values":[-70,-65,-60,-55,-50],"title":null}},
      "y2":{"field":"lo"}}}
   ]}
 ]},
 {"bounds":"flush","spacing":0,"hconcat":[
  {"width":143,"height":168,
   "layer":[
    {"data":{"name":"b1"},"mark":{"type":"line","color":"black","strokeWidth":1.8},
     "encoding":{"x":{"field":"t","type":"quantitative","scale":{"domain":[0,3.4],"nice":false,"zero":false},"axis":null},
      "y":{"field":"v","type":"quantitative","scale":{"domain":[-70,-50],"nice":false,"zero":false},"axis":{"values":[-70,-65,-60,-55,-50],"title":"Voltage [mV]","titlePadding":12}}}},
    {"data":{"values":[{"t0":2.36,"t1":3.36,"v":-69.2}]},"mark":{"type":"rule","strokeWidth":2,"color":"black"},
     "encoding":{"x":{"field":"t0","type":"quantitative","axis":null},"x2":{"field":"t1"},"y":{"field":"v","type":"quantitative"}}},
    {"data":{"values":[{"s":"B"}]},"mark":{"type":"text","fontSize":21,"align":"left","baseline":"alphabetic","color":"black"},
     "encoding":{"x":{"datum":-1.595,"type":"quantitative","axis":null},"y":{"datum":-48.57,"type":"quantitative"},"text":{"field":"s"}}}
   ]},
  {"width":91,"height":1,"data":{"name":"sp"},"mark":{"type":"point","opacity":0}},
  {"width":143,"height":168,
   "layer":[
    {"data":{"name":"b2"},"mark":{"type":"line","color":"black","strokeWidth":1.8},
     "encoding":{"x":{"field":"t","type":"quantitative","scale":{"domain":[0,3.97],"nice":false,"zero":false},"axis":null},
      "y":{"field":"v","type":"quantitative","scale":{"domain":[-70,-50],"nice":false,"zero":false},"axis":{"values":[-70,-65,-60,-55,-50],"title":null}}}},
    {"data":{"values":[{"t0":3.0,"t1":4.0,"v":-69.4,"lab":"1 s","tm":3.5,"vl":-70.9}]},
     "layer":[
      {"mark":{"type":"rule","strokeWidth":2,"color":"black"},
       "encoding":{"x":{"field":"t0","type":"quantitative","axis":null},"x2":{"field":"t1"},"y":{"field":"v","type":"quantitative"}}},
      {"mark":{"type":"text","fontSize":15,"baseline":"middle","color":"black"},
       "encoding":{"x":{"field":"tm","type":"quantitative","axis":null},"y":{"field":"vl","type":"quantitative"},"text":{"field":"lab"}}}
     ]}
   ]},
  {"width":80,"height":1,"data":{"name":"sp"},"mark":{"type":"point","opacity":0}},
  {"width":144,"height":168,
   "layer":[
    {"data":{"name":"b3"},"mark":{"type":"line","color":"black","strokeWidth":1.8},
     "encoding":{"x":{"field":"t","type":"quantitative","scale":{"domain":[0,5.76],"nice":false,"zero":false},"axis":null},
      "y":{"field":"v","type":"quantitative","scale":{"domain":[-70,-50],"nice":false,"zero":false},"axis":{"values":[-70,-65,-60,-55,-50],"title":null}}}},
    {"data":{"values":[{"t0":4.76,"t1":5.76,"v":-68.8,"lab":"1 s","tm":5.76,"vl":-70.9}]},
     "layer":[
      {"mark":{"type":"rule","strokeWidth":2,"color":"black"},
       "encoding":{"x":{"field":"t0","type":"quantitative","axis":null},"x2":{"field":"t1"},"y":{"field":"v","type":"quantitative"}}},
      {"mark":{"type":"text","fontSize":15,"baseline":"middle","color":"black"},
       "encoding":{"x":{"field":"tm","type":"quantitative","axis":null},"y":{"field":"vl","type":"quantitative"},"text":{"field":"lab"}}}
     ]}
   ]}
 ]},
 {"width":1,"height":15,"data":{"name":"sp"},"mark":{"type":"rect","opacity":0}},
 {"bounds":"flush","spacing":0,"hconcat":[
  {"width":143,"height":169,
   "layer":[
    {"data":{"name":"c1"},"mark":{"type":"line","color":"black","strokeWidth":1.8},
     "encoding":{"x":{"field":"t","type":"quantitative","scale":{"domain":[0,74],"nice":false,"zero":false},"axis":null},
      "y":{"field":"v","type":"quantitative","scale":{"domain":[-76,9.5],"nice":false,"zero":false},"axis":{"values":[-60,-40,-20,0],"title":"Voltage [mV]","titlePadding":12}}}},
    {"data":{"values":[{"t0":17.6,"t1":73,"v":-73.4}]},"mark":{"type":"rule","strokeWidth":2,"color":"black"},
     "encoding":{"x":{"field":"t0","type":"quantitative","axis":null},"x2":{"field":"t1"},"y":{"field":"v","type":"quantitative"}}},
    {"data":{"values":[{"t0":-7.3,"t1":67.9,"v":0}]},"mark":{"type":"rule","strokeWidth":2,"strokeDash":[12,10],"color":"black"},
     "encoding":{"x":{"field":"t0","type":"quantitative","axis":null},"x2":{"field":"t1"},"y":{"field":"v","type":"quantitative"}}},
    {"data":{"values":[{"s":"C"}]},"mark":{"type":"text","fontSize":21,"align":"left","baseline":"alphabetic","color":"black"},
     "encoding":{"x":{"datum":-34.7,"type":"quantitative","axis":null},"y":{"datum":11.0,"type":"quantitative"},"text":{"field":"s"}}}
   ]},
  {"width":91,"height":1,"data":{"name":"sp"},"mark":{"type":"point","opacity":0}},
  {"width":143,"height":169,
   "layer":[
    {"data":{"name":"c2"},"mark":{"type":"line","color":"black","strokeWidth":1.8},
     "encoding":{"x":{"field":"t","type":"quantitative","scale":{"domain":[0,74],"nice":false,"zero":false},"axis":null},
      "y":{"field":"v","type":"quantitative","scale":{"domain":[-70,20.8],"nice":false,"zero":false},"axis":{"values":[-60,-40,-20,0,20],"title":null}}}},
    {"data":{"values":[{"t0":0,"t1":80,"v":0}]},"mark":{"type":"rule","strokeWidth":2,"strokeDash":[12,10],"color":"black"},
     "encoding":{"x":{"field":"t0","type":"quantitative","axis":null},"x2":{"field":"t1"},"y":{"field":"v","type":"quantitative"}}},
    {"data":{"values":[{"t0":31,"t1":76,"v":-19,"lab":"45 ms","tm":53,"vl":-8.5}]},
     "layer":[
      {"mark":{"type":"rule","strokeWidth":2,"color":"black"},
       "encoding":{"x":{"field":"t0","type":"quantitative","axis":null},"x2":{"field":"t1"},"y":{"field":"v","type":"quantitative"}}},
      {"mark":{"type":"text","fontSize":15,"baseline":"middle","color":"black"},
       "encoding":{"x":{"field":"tm","type":"quantitative","axis":null},"y":{"field":"vl","type":"quantitative"},"text":{"field":"lab"}}}
     ]}
   ]}
 ]},
 {"width":1,"height":24,"data":{"name":"sp"},"mark":{"type":"rect","opacity":0}},
 {"bounds":"flush","spacing":0,"hconcat":[
  {"width":14,"height":1,"data":{"name":"sp"},"mark":{"type":"point","opacity":0}},
  {"width":109,"height":186,
   "layer":[
    {"data":{"name":"d"},"mark":{"type":"point","shape":"square","filled":false,"size":25,"strokeWidth":1,"opacity":1},
     "encoding":{"x":{"field":"g","type":"nominal","sort":["I","II"],"scale":{"domain":["I","II"],"paddingInner":0,"paddingOuter":0},"axis":{"title":null,"labelAngle":0,"ticks":false,"labelFontSize":16,"labelPadding":8,"domainWidth":1.5}},
      "xOffset":{"field":"j","type":"quantitative","scale":{"domain":[-1,1]}},
      "y":{"field":"v","type":"quantitative","scale":{"domain":[0,5],"nice":false},"axis":{"values":[0,1,2,3,4,5],"title":"Mean PSP Frequency [Hz]","tickSize":8,"labelPadding":5,"domainColor":"#555","tickColor":"#555","domainWidth":1.5,"tickWidth":1.5,"titlePadding":24}},
      "color":{"field":"g","type":"nominal","scale":{"domain":["I","II"],"range":["#7f7f7f","#35dc35"]},"legend":null}}},
    {"data":{"name":"dm"},"transform":[{"filter":"datum.g == 'I'"}],"mark":{"type":"rule","color":"#e8201c","strokeWidth":2},
     "encoding":{"x":{"field":"g","type":"nominal"},"y":{"field":"lo","type":"quantitative"},"y2":{"field":"hi"}}},
    {"data":{"name":"dm"},"transform":[{"filter":"datum.g == 'II'"}],"mark":{"type":"rule","color":"#9c3a0c","strokeWidth":2},
     "encoding":{"x":{"field":"g","type":"nominal"},"y":{"field":"lo","type":"quantitative"},"y2":{"field":"hi"}}},
    {"data":{"name":"dm"},"mark":{"type":"tick","color":"#e8201c","thickness":2.5,"size":37},
     "encoding":{"x":{"field":"g","type":"nominal"},"y":{"field":"m","type":"quantitative"}}},
    {"data":{"values":[{"s":"D"}]},"mark":{"type":"text","fontSize":21,"align":"left","baseline":"alphabetic","color":"black"},
     "encoding":{"x":{"datum":"I","type":"nominal"},"xOffset":{"datum":-3.97,"type":"quantitative"},"y":{"datum":5.62,"type":"quantitative"},"text":{"field":"s"}}}
   ]},
  {"width":101,"height":1,"data":{"name":"sp"},"mark":{"type":"point","opacity":0}},
  {"width":104,"height":186,
   "layer":[
    {"data":{"name":"e"},"mark":{"type":"point","shape":"square","filled":false,"size":25,"strokeWidth":1,"opacity":1},
     "encoding":{"x":{"field":"g","type":"nominal","sort":["I","II"],"scale":{"domain":["I","II"],"paddingInner":0,"paddingOuter":0},"axis":{"title":null,"labelAngle":0,"ticks":false,"labelFontSize":16,"labelPadding":8,"domainWidth":1.5}},
      "xOffset":{"field":"j","type":"quantitative","scale":{"domain":[-1,1]}},
      "y":{"field":"v","type":"quantitative","scale":{"domain":[0.5,3.5],"nice":false,"zero":false},"axis":{"values":[0.5,1.5,2.5,3.5],"format":".1f","title":"Mean PSP amplitude [mV]","tickSize":8,"labelPadding":5,"domainColor":"#555","tickColor":"#555","domainWidth":1.5,"tickWidth":1.5,"titlePadding":21}},
      "color":{"field":"g","type":"nominal","scale":{"domain":["I","II"],"range":["#7f7f7f","#35dc35"]},"legend":null}}},
    {"data":{"name":"em"},"transform":[{"filter":"datum.g == 'I'"}],"mark":{"type":"rule","color":"#e8201c","strokeWidth":2},
     "encoding":{"x":{"field":"g","type":"nominal"},"y":{"field":"lo","type":"quantitative"},"y2":{"field":"hi"}}},
    {"data":{"name":"em"},"transform":[{"filter":"datum.g == 'II'"}],"mark":{"type":"rule","color":"#9c3a0c","strokeWidth":2},
     "encoding":{"x":{"field":"g","type":"nominal"},"y":{"field":"lo","type":"quantitative"},"y2":{"field":"hi"}}},
    {"data":{"name":"em"},"mark":{"type":"tick","color":"#e8201c","thickness":2.5,"size":36},
     "encoding":{"x":{"field":"g","type":"nominal"},"y":{"field":"m","type":"quantitative"}}},
    {"data":{"values":[{"s":"***"}]},"mark":{"type":"text","fontSize":24,"fontWeight":"bold","color":"black","baseline":"alphabetic"},
     "encoding":{"y":{"datum":3.265,"type":"quantitative"},"text":{"field":"s"}}},
    {"data":{"values":[{"s":"E"}]},"mark":{"type":"text","fontSize":21,"align":"left","baseline":"alphabetic","color":"black"},
     "encoding":{"x":{"datum":"I","type":"nominal"},"xOffset":{"datum":-4.0,"type":"quantitative"},"y":{"datum":3.87,"type":"quantitative"},"text":{"field":"s"}}}
   ]},
  {"width":116,"height":1,"data":{"name":"sp"},"mark":{"type":"point","opacity":0}},
  {"width":109,"height":186,
   "layer":[
    {"data":{"name":"f"},"mark":{"type":"point","shape":"square","filled":false,"size":25,"strokeWidth":1,"opacity":1},
     "encoding":{"x":{"field":"g","type":"nominal","sort":["I","II"],"scale":{"domain":["I","II"],"paddingInner":0,"paddingOuter":0},"axis":{"title":null,"labelAngle":0,"ticks":false,"labelFontSize":16,"labelPadding":8,"domainWidth":1.5}},
      "xOffset":{"field":"j","type":"quantitative","scale":{"domain":[-1,1]}},
      "y":{"field":"v","type":"quantitative","scale":{"domain":[0,40],"nice":false},"axis":{"values":[0,10,20,30,40],"title":"Mean PSP duration [ms]","tickSize":8,"labelPadding":5,"domainColor":"#555","tickColor":"#555","domainWidth":1.5,"tickWidth":1.5,"titlePadding":18}},
      "color":{"field":"g","type":"nominal","scale":{"domain":["I","II"],"range":["#7f7f7f","#35dc35"]},"legend":null}}},
    {"data":{"name":"fm"},"transform":[{"filter":"datum.g == 'I'"}],"mark":{"type":"rule","color":"#e8201c","strokeWidth":2},
     "encoding":{"x":{"field":"g","type":"nominal"},"y":{"field":"lo","type":"quantitative"},"y2":{"field":"hi"}}},
    {"data":{"name":"fm"},"transform":[{"filter":"datum.g == 'II'"}],"mark":{"type":"rule","color":"#9c3a0c","strokeWidth":2},
     "encoding":{"x":{"field":"g","type":"nominal"},"y":{"field":"lo","type":"quantitative"},"y2":{"field":"hi"}}},
    {"data":{"name":"fm"},"mark":{"type":"tick","color":"#e8201c","thickness":2.5,"size":37},
     "encoding":{"x":{"field":"g","type":"nominal"},"y":{"field":"m","type":"quantitative"}}},
    {"data":{"values":[{"s":"***"}]},"mark":{"type":"text","fontSize":24,"fontWeight":"bold","color":"black","baseline":"alphabetic"},
     "encoding":{"y":{"datum":36.45,"type":"quantitative"},"text":{"field":"s"}}},
    {"data":{"values":[{"g":"I","n":"n=39"},{"g":"II","n":"n=88"}]},"mark":{"type":"text","fontSize":15,"color":"black","baseline":"alphabetic"},
     "encoding":{"x":{"field":"g","type":"nominal"},"y":{"datum":1.06,"type":"quantitative"},"text":{"field":"n"}}},
    {"data":{"values":[{"s":"F"}]},"mark":{"type":"text","fontSize":21,"align":"left","baseline":"alphabetic","color":"black"},
     "encoding":{"x":{"datum":"I","type":"nominal"},"xOffset":{"datum":-4.19,"type":"quantitative"},"y":{"datum":44.9,"type":"quantitative"},"text":{"field":"s"}}}
   ]}
 ]}
]
}
